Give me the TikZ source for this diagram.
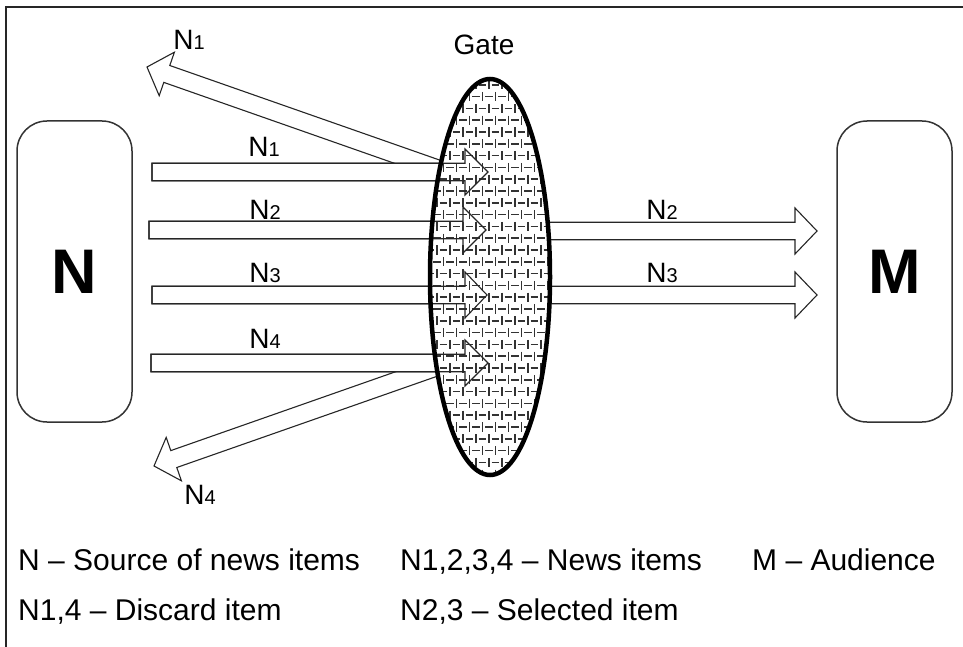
\documentclass[tikz,border=0pt]{standalone}
\usepackage{fontspec}
\setmainfont{Liberation Sans}
\newcommand{\idx}[1]{{\fontsize{20}{20}\selectfont #1}}
\newcommand{\harrow}[5]{%
  \path[#1] (#2,#5-8.75) -- (#3,#5-8.75) -- (#3,#5-23) -- (#4,#5) -- (#3,#5+23) -- (#3,#5+8.75) -- (#2,#5+8.75) -- cycle;}
\begin{document}
\begin{tikzpicture}[x=1pt,y=-1pt,
  frame/.style={line width=1.4pt, draw=black!85},
  box/.style={draw=black!80, line width=1.5pt, rounded corners=30pt, minimum width=115pt, minimum height=301pt, inner sep=0pt},
  blockarrow/.style={draw=black!85, line width=1.1pt, line join=miter},
  lbl/.style={font=\fontsize{28}{28}\selectfont, inner sep=0pt},
  legend/.style={font=\fontsize{30}{30}\selectfont, anchor=base west, inner sep=0pt},
  big/.style={font=\fontsize{63}{63}\selectfont\bfseries},
  weave/.style={draw=black!80, line width=1.5pt},
  gateline/.style={draw=black, line width=4.5pt}
]
\useasboundingbox (0,0) rectangle (963,647);
% frame
\coordinate (fbl) at (6,647);
\coordinate (ftl) at (6,7);
\coordinate (ftr) at (963,7);
\draw[frame] (fbl) -- (ftl) -- (ftr);
% boxes
\node[box, big] (N) at (74.5,271.5) {N};
\node[box, big] (M) at (894.5,271.5) {M};
% discarded arrows
\path[blockarrow, fill=white] (147,67) -- (174.4,52.2) -- (169.8,65.5) -- (461.4,167.7) -- (455.4,184.7) -- (163.8,82.4) -- (159.2,95.7) -- cycle;
\path[blockarrow, fill=white] (154,466) -- (166.2,437.4) -- (170.8,450.6) -- (462.4,348.3) -- (468.4,365.3) -- (176.8,467.5) -- (181.4,480.8) -- cycle;
% selected arrows
\harrow{blockarrow,fill=white}{520}{795}{817}{231}
\harrow{blockarrow,fill=white}{520}{795}{817}{295}
% incoming arrows (white, to hide discard tails)
\harrow{blockarrow,fill=white}{152}{465}{488}{172}
\harrow{blockarrow,fill=white}{149}{463}{486}{230}
\harrow{blockarrow,fill=white}{152}{465}{487}{295}
\harrow{blockarrow,fill=white}{151}{465}{488}{363}
% gate
\coordinate (gate) at (490,277);
\fill[white] (gate) ellipse [x radius=60pt, y radius=198pt];
\begin{scope}
  \clip (gate) ellipse [x radius=60pt, y radius=198pt];
  \foreach \r in {0,...,35} {
    \pgfmathsetmacro\yy{73+11.8*\r}
    \pgfmathsetmacro\off{mod(\r,2)*6.5}
    \foreach \c in {0,...,10} {
      \pgfmathsetmacro\xx{420+13*\c+\off}
      \draw[weave] (\xx,\yy) -- (\xx+7.5,\yy) (\xx+10.25,\yy-4.6) -- (\xx+10.25,\yy+4.6);
    }
  }
\end{scope}
% incoming arrow outlines over the gate
\harrow{blockarrow}{152}{465}{488}{172}
\harrow{blockarrow}{149}{463}{486}{230}
\harrow{blockarrow}{152}{465}{487}{295}
\harrow{blockarrow}{151}{465}{488}{363}
\draw[gateline] (gate) ellipse [x radius=60pt, y radius=198pt];
% labels
\node[lbl] (gl) at (484,45) {Gate};
\node[lbl] (d1) at (189,40) {N\idx{1}};
\node[lbl] (d4) at (200,495) {N\idx{4}};
\node[lbl] (i1) at (264,147) {N\idx{1}};
\node[lbl] (i2) at (265,210) {N\idx{2}};
\node[lbl] (i3) at (265,273) {N\idx{3}};
\node[lbl] (i4) at (265,339) {N\idx{4}};
\node[lbl] (o2) at (662,210) {N\idx{2}};
\node[lbl] (o3) at (662,273) {N\idx{3}};
% legend
\node[legend] (lg1) at (18,570) {N – Source of news items};
\node[legend] (lg2) at (400,570) {N1,2,3,4 – News items};
\node[legend] (lg3) at (752,570) {M – Audience};
\node[legend] (lg4) at (18,620) {N1,4 – Discard item};
\node[legend] (lg5) at (400,620) {N2,3 – Selected item};
\end{tikzpicture}
\end{document}
